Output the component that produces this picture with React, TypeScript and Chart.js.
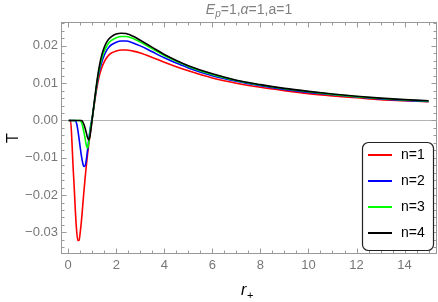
import React, { useEffect, useRef } from 'react';
import { Chart, registerables } from 'chart.js';

Chart.register(...registerables);

const FONT = "'Liberation Sans', Arial, sans-serif";

// horizon radius r+
const rValues = [
  0.02, 0.05, 0.1, 0.15, 0.2, 0.25, 0.3, 0.35, 0.4, 0.45, 0.5, 0.55, 0.6, 0.65,
  0.7, 0.75, 0.8, 0.85, 0.9, 0.95, 1.0, 1.1, 1.2, 1.3, 1.4, 1.5, 1.6, 1.7, 1.8,
  2.0, 2.2, 2.4, 2.7, 3.0, 3.5, 4, 4.5, 5, 6, 7, 8, 9, 10, 11, 12, 13, 14, 15,
];

const tN1 = [
  0, 0, 0, -0.005, -0.012, -0.018, -0.0245, -0.0295, -0.0322, -0.0322, -0.03, -0.027,
  -0.0232, -0.0193, -0.0157, -0.0124, -0.0094, -0.0067, -0.0042, -0.0018, 0.0005,
  0.005, 0.009, 0.0121, 0.0142, 0.0157, 0.0168, 0.0176, 0.0181, 0.0186, 0.0189,
  0.0189, 0.0186, 0.0181, 0.0169, 0.0156, 0.0144, 0.0133, 0.0114, 0.01, 0.0089,
  0.008, 0.0072, 0.0066, 0.0061, 0.0056, 0.0053, 0.005,
];

const tN2 = [
  0, 0, 0, 0, 0, 0, 0, -0.0008, -0.0025, -0.0048, -0.0072, -0.0095, -0.0113,
  -0.0123, -0.0122, -0.0107, -0.0082, -0.0055, -0.0029, -0.0008, 0.0007, 0.0053,
  0.0098, 0.0133, 0.0157, 0.0175, 0.0188, 0.0197, 0.0203, 0.021, 0.0213, 0.0213,
  0.0208, 0.02, 0.0184, 0.0168, 0.0154, 0.0141, 0.012, 0.0105, 0.0093, 0.0083,
  0.0075, 0.0069, 0.0063, 0.0058, 0.0054, 0.0051,
];

const tN3 = [
  0, 0, 0, 0, 0, 0, 0, 0, 0, 0, 0, -0.0005, -0.0015, -0.003, -0.0047, -0.0065,
  -0.0074, -0.0062, -0.0035, -0.0012, 0.0006, 0.0055, 0.0103, 0.014, 0.0167,
  0.0186, 0.0199, 0.0209, 0.0215, 0.0222, 0.0225, 0.0225, 0.022, 0.021, 0.0192,
  0.0174, 0.0159, 0.0145, 0.0123, 0.0107, 0.0095, 0.0085, 0.0077, 0.007, 0.0064,
  0.0059, 0.0055, 0.0052,
];

const tN4 = [
  0, 0, 0, 0, 0, 0, 0, 0, 0, 0, 0, 0, -0.0003, -0.001, -0.002, -0.0032, -0.0045,
  -0.0052, -0.0044, -0.0022, 0.0005, 0.0057, 0.0107, 0.0147, 0.0176, 0.0196,
  0.021, 0.0219, 0.0225, 0.0232, 0.0234, 0.0233, 0.0226, 0.0215, 0.0196, 0.0177,
  0.0161, 0.0147, 0.0125, 0.0108, 0.0096, 0.0086, 0.0078, 0.0071, 0.0065, 0.006,
  0.0056, 0.0053,
];

const seriesValues = [tN1, tN2, tN3, tN4];
const seriesLabels = ['n=1', 'n=2', 'n=3', 'n=4'];
const seriesColors = ['#ff0000', '#0000ff', '#00ff00', '#000000'];

const xTickValues = [0, 2, 4, 6, 8, 10, 12, 14];
const xTickLabels = ['0', '2', '4', '6', '8', '10', '12', '14'];
const yTickValues = [-0.03, -0.02, -0.01, 0, 0.01, 0.02];
const yTickLabels = ['\u22120.03', '\u22120.02', '\u22120.01', '0.00', '0.01', '0.02'];

const X_MIN = -0.3;
const X_MAX = 15.35;
const Y_MIN = -0.0358;
const Y_MAX = 0.0264;
const X_MINOR_STEP = 0.5;
const Y_MINOR_STEP = 0.002;

const framePlugin = {
  id: 'mmaFrame',
  beforeDatasetsDraw(chart: any) {
    const { ctx, chartArea } = chart;
    const ys = chart.scales.y;
    const y0 = Math.round(ys.getPixelForValue(0)) + 0.5;
    ctx.save();
    ctx.strokeStyle = '#b4b4b4';
    ctx.lineWidth = 1;
    ctx.beginPath();
    ctx.moveTo(chartArea.left, y0);
    ctx.lineTo(chartArea.right, y0);
    ctx.stroke();
    ctx.restore();
  },
  afterDraw(chart: any) {
    const { ctx, chartArea } = chart;
    const xs = chart.scales.x;
    const ys = chart.scales.y;
    const L = Math.round(chartArea.left) + 0.5;
    const R = Math.round(chartArea.right) - 0.5;
    const T = Math.round(chartArea.top) + 0.5;
    const B = Math.round(chartArea.bottom) - 0.5;
    ctx.save();
    ctx.strokeStyle = '#999999';
    ctx.lineWidth = 1;
    ctx.strokeRect(L, T, R - L, B - T);

    ctx.beginPath();
    // x ticks (bottom and top)
    for (let k = Math.ceil(X_MIN / X_MINOR_STEP); k * X_MINOR_STEP <= X_MAX; k++) {
      const v = k * X_MINOR_STEP;
      const major = xTickValues.some((t) => Math.abs(t - v) < 1e-9);
      const len = major ? 5 : 3;
      const px = Math.round(xs.getPixelForValue(v)) + 0.5;
      ctx.moveTo(px, B);
      ctx.lineTo(px, B - len);
      ctx.moveTo(px, T);
      ctx.lineTo(px, T + len);
    }
    // y ticks (left and right)
    for (let k = Math.ceil(Y_MIN / Y_MINOR_STEP); k * Y_MINOR_STEP <= Y_MAX + 1e-12; k++) {
      const v = k * Y_MINOR_STEP;
      const major = yTickValues.some((t) => Math.abs(t - v) < 1e-9);
      const len = major ? 5 : 3;
      const py = Math.round(ys.getPixelForValue(v)) + 0.5;
      ctx.moveTo(L, py);
      ctx.lineTo(L + len, py);
      ctx.moveTo(R, py);
      ctx.lineTo(R - len, py);
    }
    ctx.stroke();

    // title  E_p=1,α=1,a=1
    const cx = (chartArea.left + chartArea.right) / 2;
    const parts = [
      { t: 'E', f: `italic 14px ${FONT}`, dy: 0 },
      { t: 'p', f: `italic 10px ${FONT}`, dy: 3 },
      { t: '=1,', f: `14px ${FONT}`, dy: 0 },
      { t: '\u03b1', f: `italic 14px ${FONT}`, dy: 0 },
      { t: '=1,a=1', f: `14px ${FONT}`, dy: 0 },
    ];
    let total = 0;
    for (const p of parts) {
      ctx.font = p.f;
      total += ctx.measureText(p.t).width;
    }
    let x = cx - total / 2;
    ctx.fillStyle = '#808080';
    ctx.textBaseline = 'alphabetic';
    ctx.textAlign = 'left';
    for (const p of parts) {
      ctx.font = p.f;
      ctx.fillText(p.t, x, 14 + p.dy);
      x += ctx.measureText(p.t).width;
    }

    // x axis label r_+
    ctx.fillStyle = '#000000';
    ctx.font = `italic 16px ${FONT}`;
    const wr = ctx.measureText('r').width;
    ctx.font = `11px ${FONT}`;
    const wp = ctx.measureText('+').width;
    let lx = cx - 2 - (wr + wp) / 2;
    ctx.font = `italic 16px ${FONT}`;
    ctx.fillText('r', lx, 294.5);
    ctx.font = `11px ${FONT}`;
    ctx.fillText('+', lx + wr + 0.5, 298.5);

    // legend
    const bx = 362.5, by = 142.5, bw = 71, bh = 108, rad = 6;
    ctx.beginPath();
    ctx.moveTo(bx + rad, by);
    ctx.lineTo(bx + bw - rad, by);
    ctx.arcTo(bx + bw, by, bx + bw, by + rad, rad);
    ctx.lineTo(bx + bw, by + bh - rad);
    ctx.arcTo(bx + bw, by + bh, bx + bw - rad, by + bh, rad);
    ctx.lineTo(bx + rad, by + bh);
    ctx.arcTo(bx, by + bh, bx, by + bh - rad, rad);
    ctx.lineTo(bx, by + rad);
    ctx.arcTo(bx, by, bx + rad, by, rad);
    ctx.closePath();
    ctx.fillStyle = '#ffffff';
    ctx.fill();
    ctx.strokeStyle = '#222222';
    ctx.lineWidth = 1.2;
    ctx.stroke();

    const ds = chart.data.datasets;
    ctx.textBaseline = 'middle';
    ctx.font = `14px ${FONT}`;
    for (let i = 0; i < ds.length; i++) {
      const yy = 155 + 26 * i;
      ctx.strokeStyle = ds[i].borderColor;
      ctx.lineWidth = 2;
      ctx.beginPath();
      ctx.moveTo(368, yy);
      ctx.lineTo(392, yy);
      ctx.stroke();
      ctx.fillStyle = '#000000';
      ctx.fillText(ds[i].label, 401, yy);
    }
    ctx.restore();
  },
};

export default function App() {
  const canvasRef = useRef<HTMLCanvasElement | null>(null);

  useEffect(() => {
    document.body.style.margin = '0';
    const canvas = canvasRef.current;
    if (!canvas) return;
    const chart = new Chart(canvas, {
      type: 'line',
      data: {
        datasets: seriesValues.map((vals, i) => ({
          label: seriesLabels[i],
          data: rValues.map((r, j) => ({ x: r, y: vals[j] })),
          borderColor: seriesColors[i],
          backgroundColor: seriesColors[i],
          borderWidth: 1.6,
          pointRadius: 0,
          fill: false,
          cubicInterpolationMode: 'monotone',
          order: seriesValues.length - 1 - i,
        })),
      },
      options: {
        responsive: false,
        animation: false,
        events: [],
        layout: { padding: { top: 22, right: 1, left: 0, bottom: 0 } },
        plugins: {
          legend: { display: false },
          tooltip: { enabled: false },
          title: { display: false },
        },
        scales: {
          x: {
            type: 'linear',
            min: X_MIN,
            max: X_MAX,
            grid: { display: false, drawTicks: false },
            border: { display: false },
            afterBuildTicks: (s: any) => {
              s.ticks = xTickValues.map((v) => ({ value: v }));
            },
            afterFit: (s: any) => {
              s.height = 48;
            },
            ticks: {
              padding: 4,
              color: '#777777',
              font: { size: 13, family: FONT },
              maxRotation: 0,
              autoSkip: false,
              callback: (v: any) => {
                const idx = xTickValues.findIndex((t) => Math.abs(t - Number(v)) < 1e-9);
                return idx >= 0 ? xTickLabels[idx] : '';
              },
            },
          },
          y: {
            type: 'linear',
            min: Y_MIN,
            max: Y_MAX,
            grid: { display: false, drawTicks: false },
            border: { display: false },
            afterBuildTicks: (s: any) => {
              s.ticks = yTickValues.map((v) => ({ value: v }));
            },
            afterFit: (s: any) => {
              s.width = 61;
            },
            ticks: {
              padding: 3,
              color: '#777777',
              font: { size: 13, family: FONT },
              autoSkip: false,
              callback: (v: any) => {
                const idx = yTickValues.findIndex((t) => Math.abs(t - Number(v)) < 1e-9);
                return idx >= 0 ? yTickLabels[idx] : '';
              },
            },
            title: {
              display: true,
              text: 'T',
              color: '#000000',
              font: { size: 16, family: FONT },
              padding: { top: 4, bottom: 0 },
            },
          },
        },
      },
      plugins: [framePlugin],
    } as any);
    return () => chart.destroy();
  }, []);

  return (
    <div style={{ width: 438, height: 302 }}>
      <canvas ref={canvasRef} width={438} height={302} style={{ display: 'block' }} />
    </div>
  );
}
